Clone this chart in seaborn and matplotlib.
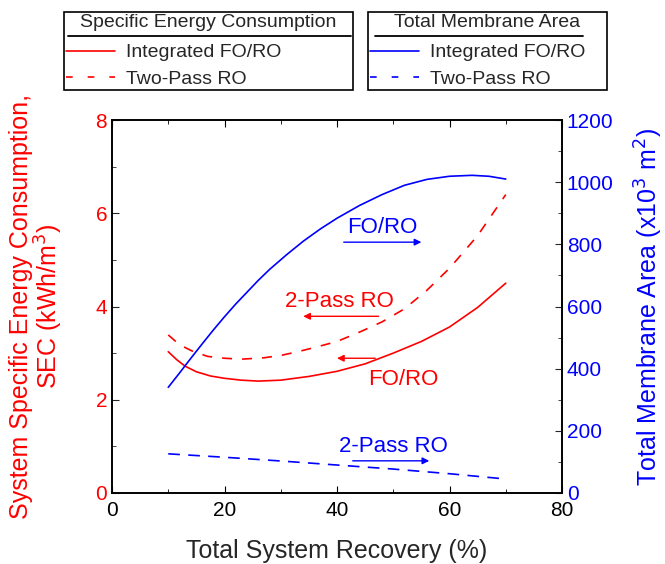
import numpy as np
import pandas as pd
import matplotlib
matplotlib.use("Agg")
import matplotlib.pyplot as plt
import seaborn as sns
from matplotlib.lines import Line2D
from matplotlib.ticker import MultipleLocator

# ---- data ----
sec_fo_ro_x = [10, 11.5, 13, 15, 17.5, 20, 23, 26, 30, 35, 40, 45, 50, 55, 60, 65, 70]
sec_fo_ro = [3.03, 2.86, 2.72, 2.60, 2.51, 2.46, 2.42, 2.40, 2.42, 2.50, 2.61, 2.77,
             3.00, 3.25, 3.56, 3.98, 4.50]

sec_two_pass_x = [10, 12, 14.5, 17, 20, 23, 27, 30, 33, 36, 40, 44, 48, 52, 56, 60, 65, 70]
sec_two_pass = [3.39, 3.18, 3.03, 2.93, 2.89, 2.87, 2.90, 2.95, 3.03, 3.12, 3.25, 3.45,
                3.67, 3.95, 4.35, 4.82, 5.52, 6.40]

area_fo_ro_x = [10, 12, 14, 16, 18, 20, 22, 24, 26, 28, 31, 34, 37, 40, 44, 48, 52,
                56, 60, 64, 67, 70]
area_fo_ro = [340, 386, 433, 479, 524, 567, 608, 646, 684, 719, 766, 810, 849, 884,
              925, 960, 990, 1009, 1019, 1022, 1019, 1010]

area_two_pass_x = [10, 20, 30, 40, 50, 60, 70]
area_two_pass = [126, 115, 103, 90, 77, 62, 45]

RED = "#ff0000"
BLUE = "#0000ff"

sns.set_style("ticks")
plt.rcParams["font.family"] = ["Liberation Sans", "DejaVu Sans"]
plt.rcParams["xtick.direction"] = "in"
plt.rcParams["ytick.direction"] = "in"

fig = plt.figure(figsize=(6.65, 5.64), dpi=100)
ax = fig.add_axes([112/665, 1-493/564, 450/665, 373/564])
ax2 = ax.twinx()

d1 = pd.DataFrame({"x": sec_fo_ro_x, "y": sec_fo_ro})
d2 = pd.DataFrame({"x": sec_two_pass_x, "y": sec_two_pass})
d3 = pd.DataFrame({"x": area_fo_ro_x, "y": area_fo_ro})
d4 = pd.DataFrame({"x": area_two_pass_x, "y": area_two_pass})

DASH_R = (0, (6, 6))
DASH_B = (0, (7, 5))
sns.lineplot(data=d1, x="x", y="y", ax=ax, color=RED, lw=1.2)
sns.lineplot(data=d2, x="x", y="y", ax=ax, color=RED, lw=1.2, linestyle=DASH_R)
sns.lineplot(data=d3, x="x", y="y", ax=ax2, color=BLUE, lw=1.2)
sns.lineplot(data=d4, x="x", y="y", ax=ax2, color=BLUE, lw=1.2, linestyle=DASH_B)

ax.set_xlim(0, 80)
ax.set_ylim(0, 8)
ax2.set_ylim(0, 1200)
ax.xaxis.set_major_locator(MultipleLocator(20))
ax.xaxis.set_minor_locator(MultipleLocator(10))
ax.yaxis.set_major_locator(MultipleLocator(2))
ax.yaxis.set_minor_locator(MultipleLocator(1))
ax2.yaxis.set_major_locator(MultipleLocator(200))
ax2.yaxis.set_minor_locator(MultipleLocator(100))

ax.tick_params(axis="x", which="both", top=True, labelsize=15, colors="black", pad=6)
ax.tick_params(axis="x", which="major", length=5)
ax.tick_params(axis="x", which="minor", length=3)
ax.tick_params(axis="y", which="both", labelsize=15, labelcolor=RED, right=False)
ax.tick_params(axis="y", which="major", length=5)
ax.tick_params(axis="y", which="minor", length=3)
ax2.tick_params(axis="y", which="both", labelsize=15, labelcolor=BLUE)
ax2.tick_params(axis="y", which="major", length=5)
ax2.tick_params(axis="y", which="minor", length=3)

for a in (ax, ax2):
    for s in a.spines.values():
        s.set_visible(True)
        s.set_linewidth(1.2)
        s.set_color("black")

ax.set_xlabel("Total System Recovery (%)", fontsize=18)
ax.xaxis.set_label_coords(0.5, -0.123)
ax.set_ylabel("System Specific Energy Consumption,\nSEC (kWh/m$^3$)", fontsize=18,
              color=RED, linespacing=1.0)
ax.yaxis.set_label_coords(-0.104, 0.5)
ax2.set_ylabel("Total Membrane Area (x10$^3$ m$^2$)", fontsize=18, color=BLUE)
ax2.yaxis.set_label_coords(1.158, 0.5)

# annotations
ARW = dict(arrowstyle="-|>", lw=1, mutation_scale=10, shrinkA=0, shrinkB=0)
ax.text(48, 5.69, "FO/RO", color=BLUE, fontsize=16, ha="center", va="center")
ax.annotate("", xy=(55, 5.38), xytext=(41.2, 5.38), arrowprops=dict(ARW, color=BLUE))
ax.text(40.5, 4.1, "2-Pass RO", color=RED, fontsize=16, ha="center", va="center")
ax.annotate("", xy=(34, 3.79), xytext=(47.4, 3.79), arrowprops=dict(ARW, color=RED))
ax.annotate("", xy=(40, 2.89), xytext=(46.8, 2.89), arrowprops=dict(ARW, color=RED))
ax.text(51.7, 2.43, "FO/RO", color=RED, fontsize=16, ha="center", va="center")
ax.text(50, 1.0, "2-Pass RO", color=BLUE, fontsize=16, ha="center", va="center")
ax.annotate("", xy=(56.4, 0.69), xytext=(42.8, 0.69), arrowprops=dict(ARW, color=BLUE))

# legends
def make_legend(color, title, x0, x1):
    handles = [Line2D([], [], color=color, lw=1.2),
               Line2D([], [], color=color, lw=1.2, linestyle=(0, (4, 9)))]
    leg = fig.legend(handles, ["Integrated FO/RO", "Two-Pass RO"], title=title,
                     loc="upper left",
                     bbox_to_anchor=(x0/665, 1-90/564, (x1-x0)/665, 78/564),
                     mode="expand", framealpha=1,
                     frameon=True, fancybox=False, edgecolor="black",
                     fontsize=14, title_fontsize=14, handlelength=2.5,
                     borderpad=0.1, labelspacing=0.45, handletextpad=0.6,
                     borderaxespad=0)
    leg.get_frame().set_linewidth(1.2)
    leg._legend_box.sep = leg._legend_box.sep + 3
    return leg

make_legend(RED, "Specific Energy Consumption", 64, 353)
make_legend(BLUE, "Total Membrane Area", 368, 607)
fig.add_artist(Line2D([68/665, 351/665], [1-36/564, 1-36/564], color="black", lw=1.3,
                      transform=fig.transFigure, zorder=20))
fig.add_artist(Line2D([375/665, 583/665], [1-36/564, 1-36/564], color="black", lw=1.3,
                      transform=fig.transFigure, zorder=20))

fig.savefig("out.png", dpi=100)
